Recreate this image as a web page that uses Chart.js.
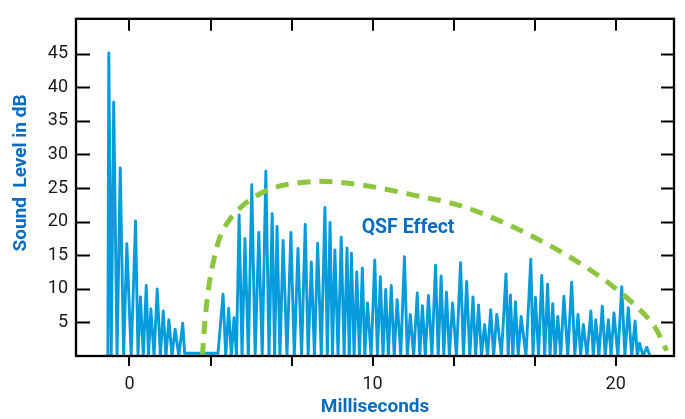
<!DOCTYPE html>
<html>
<head>
<meta charset="utf-8">
<script src="https://cdn.jsdelivr.net/npm/chart.js@4.4.1/dist/chart.umd.min.js"></script>
<style>
  html, body { margin: 0; padding: 0; background: #fff; }
</style>
</head>
<body>
<canvas id="soundChart" width="685" height="419"></canvas>
<script>
// Measured signal: time in ms and level in dB (peaks and the troughs between them)
const signalMs = [
    -0.89, -0.85, -0.75, -0.65, -0.51, -0.38, -0.24, -0.11, 0.07, 0.25,
    0.35, 0.45, 0.57, 0.69, 0.78, 0.88, 1.01, 1.14, 1.27, 1.39,
    1.50, 1.62, 1.75, 1.88, 2.03, 2.19, 2.27, 3.64, 3.85, 3.96,
    4.08, 4.19, 4.30, 4.40, 4.51, 4.63, 4.75, 4.89, 5.03, 5.17,
    5.32, 5.46, 5.61, 5.74, 5.87, 5.97, 6.07, 6.19, 6.32, 6.48,
    6.64, 6.78, 6.93, 7.08, 7.23, 7.35, 7.48, 7.61, 7.74, 7.89,
    8.04, 8.14, 8.25, 8.35, 8.45, 8.58, 8.71, 8.83, 8.95, 9.04,
    9.13, 9.24, 9.35, 9.46, 9.58, 9.68, 9.79, 9.94, 10.09, 10.20,
    10.32, 10.43, 10.54, 10.65, 10.77, 10.89, 11.01, 11.16, 11.31, 11.43,
    11.55, 11.69, 11.84, 11.94, 12.05, 12.17, 12.30, 12.44, 12.59, 12.70,
    12.82, 12.93, 13.04, 13.16, 13.29, 13.45, 13.62, 13.74, 13.87, 14.00,
    14.13, 14.24, 14.36, 14.48, 14.61, 14.73, 14.86, 14.98, 15.11, 15.30,
    15.49, 15.58, 15.67, 15.77, 15.88, 15.99, 16.11, 16.31, 16.51, 16.60,
    16.70, 16.83, 16.96, 17.08, 17.20, 17.30, 17.41, 17.51, 17.62, 17.74,
    17.87, 18.03, 18.19, 18.32, 18.45, 18.56, 18.67, 18.82, 18.98, 19.08,
    19.18, 19.31, 19.45, 19.57, 19.70, 19.81, 19.93, 20.09, 20.25, 20.38,
    20.52, 20.66, 20.80, 20.89, 20.98, 21.13, 21.28, 21.39
];
const signalDb = [
    0, 45.1, 0, 37.8, 0, 28.0, 0, 16.7, 0, 20.1,
    0, 8.8, 0, 10.5, 0, 7.0, 0, 10.0, 0, 6.7,
    0, 5.4, 0, 4.0, 0, 4.9, 0.4, 0.4, 9.2, 0,
    7.1, 0, 5.7, 0, 21.0, 0, 17.5, 0, 25.5, 0,
    18.4, 0, 27.5, 0, 21.2, 0, 19.3, 0, 17.2, 0,
    18.4, 0, 16.0, 0, 19.6, 0, 14.0, 0, 16.8, 0,
    22.1, 0, 19.9, 0, 15.8, 0, 17.7, 0, 16.1, 0,
    15.3, 0, 12.5, 0, 13.1, 0, 7.9, 0, 14.3, 0,
    11.8, 0, 9.9, 0, 10.5, 0, 8.4, 0, 14.8, 0,
    6.2, 0, 9.4, 0, 7.5, 0, 9.0, 0, 13.5, 0,
    11.9, 0, 9.5, 0, 7.9, 0, 13.9, 0, 11.1, 0,
    8.8, 0, 7.6, 0, 4.7, 0, 6.9, 0, 6.2, 0,
    12.2, 0, 9.1, 0, 8.1, 0, 5.9, 0, 14.4, 0,
    8.7, 0, 12.0, 0, 10.7, 0, 7.8, 0, 5.9, 0,
    8.9, 0, 11.0, 0, 6.2, 0, 4.7, 0, 6.7, 0,
    5.4, 0, 7.4, 0, 5.4, 0, 6.4, 0, 10.3, 0,
    7.2, 0, 5.2, 0, 1.9, 0, 1.3, 0.2
];

// QSF effect envelope (green dashed curve)
const envelopeMs = [3.0, 3.1, 3.25, 3.45, 3.7, 4.1, 4.6, 5.2, 5.9, 6.8, 7.8, 8.8, 10.3, 11.5, 13.6, 15.3, 16.9, 18.4, 19.8, 21.1, 21.65, 22.1];
const envelopeDb = [0, 5, 10, 14, 17.5, 20.2, 22.2, 23.8, 25.0, 25.7, 26.0, 25.8, 25.0, 24.1, 22.4, 20.0, 17.2, 14.1, 10.6, 6.5, 4.1, 0.8];

// Axis ticks
const xTickValues = [0, 10 / 3, 20 / 3, 10, 40 / 3, 50 / 3, 20];
const xTickLabels = ['0', '', '', '10', '', '', '20'];
const yTickValues = [5, 10, 15, 20, 25, 30, 35, 40, 45];

const blue = '#069cdc';
const green = '#8cc63e';
const titleBlue = '#0a6cbf';

// Build the point lists from the arrays
const signalPoints = signalMs.map((t, i) => ({x: t, y: signalDb[i]}));
const envelopePoints = envelopeMs.map((t, i) => ({x: t, y: envelopeDb[i]}));

// Plugin to draw the plot frame, inward ticks and the text labels
const framePlugin = {
    id: 'frame',
    afterDraw(chart) {
        const ctx = chart.ctx;
        const area = chart.chartArea;
        const xScale = chart.scales.x;
        const yScale = chart.scales.y;

        ctx.save();
        ctx.strokeStyle = '#000';
        ctx.lineWidth = 2.3;
        ctx.strokeRect(area.left, area.top, area.right - area.left, area.bottom - area.top);

        // Inward ticks on the left and right sides
        ctx.lineWidth = 2;
        yTickValues.forEach(v => {
            const py = Math.round(yScale.getPixelForValue(v)) + 0.5;
            ctx.beginPath();
            ctx.moveTo(area.left, py);
            ctx.lineTo(area.left + 14, py);
            ctx.moveTo(area.right, py);
            ctx.lineTo(area.right - 13, py);
            ctx.stroke();
        });

        // Inward ticks along the top
        xTickValues.forEach(v => {
            const px = Math.round(xScale.getPixelForValue(v));
            ctx.beginPath();
            ctx.moveTo(px, area.top);
            ctx.lineTo(px, area.top + 12);
            ctx.stroke();
        });

        // Y axis title
        ctx.fillStyle = titleBlue;
        ctx.font = 'bold 19px Roboto';
        ctx.textAlign = 'center';
        ctx.textBaseline = 'middle';
        ctx.translate(21, 173);
        ctx.rotate(-Math.PI / 2);
        ctx.fillText('Sound  Level in dB', 0, 0);
        ctx.restore();

        // QSF Effect label
        ctx.save();
        ctx.fillStyle = titleBlue;
        ctx.font = 'bold 19.5px Roboto';
        ctx.textAlign = 'left';
        ctx.textBaseline = 'middle';
        ctx.fillText('QSF Effect', xScale.getPixelForValue(9.55), yScale.getPixelForValue(19));
        ctx.restore();
    }
};

const canvasContext = document.getElementById('soundChart').getContext('2d');

new Chart(canvasContext, {
    type: 'line',
    data: {
        datasets: [
            {
                label: 'QSF Effect',
                data: envelopePoints,
                borderColor: green,
                borderWidth: 5,
                borderDash: [13, 9],
                pointRadius: 0,
                tension: 0.4,
                cubicInterpolationMode: 'monotone',
                fill: false
            },
            {
                label: 'Sound Level',
                data: signalPoints,
                borderColor: blue,
                borderWidth: 2.9,
                borderJoinStyle: 'round',
                borderCapStyle: 'round',
                pointRadius: 0,
                tension: 0,
                fill: false
            }
        ]
    },
    options: {
        responsive: false,
        animation: false,
        devicePixelRatio: 1,
        layout: {
            padding: {top: 9, right: 11, left: 0, bottom: 0}
        },
        plugins: {
            legend: {display: false},
            tooltip: {enabled: false}
        },
        scales: {
            x: {
                type: 'linear',
                position: 'bottom',
                min: -2.2,
                max: 22.4,
                afterBuildTicks: scale => {
                    scale.ticks = xTickValues.map(v => ({value: v}));
                },
                afterFit: scale => {
                    scale.height = 63;
                },
                border: {display: false},
                grid: {
                    display: true,
                    drawOnChartArea: false,
                    drawTicks: true,
                    tickLength: 10,
                    color: '#000',
                    lineWidth: 2
                },
                ticks: {
                    autoSkip: false,
                    maxRotation: 0,
                    padding: 8,
                    color: '#1a1a1a',
                    font: {family: 'Roboto', size: 18},
                    callback: (value, index) => xTickLabels[index]
                },
                title: {
                    display: true,
                    text: 'Milliseconds',
                    color: titleBlue,
                    font: {family: 'Roboto', size: 19, weight: 'bold'},
                    padding: {top: 0, bottom: 0}
                }
            },
            y: {
                type: 'linear',
                position: 'left',
                min: 0,
                max: 50.2,
                afterBuildTicks: scale => {
                    scale.ticks = yTickValues.map(v => ({value: v}));
                },
                afterFit: scale => {
                    scale.width = 76;
                },
                border: {display: false},
                grid: {display: false, drawTicks: false},
                ticks: {
                    padding: 8,
                    color: '#1a1a1a',
                    font: {family: 'Roboto', size: 18}
                }
            }
        }
    },
    plugins: [framePlugin]
});
</script>
</body>
</html>
